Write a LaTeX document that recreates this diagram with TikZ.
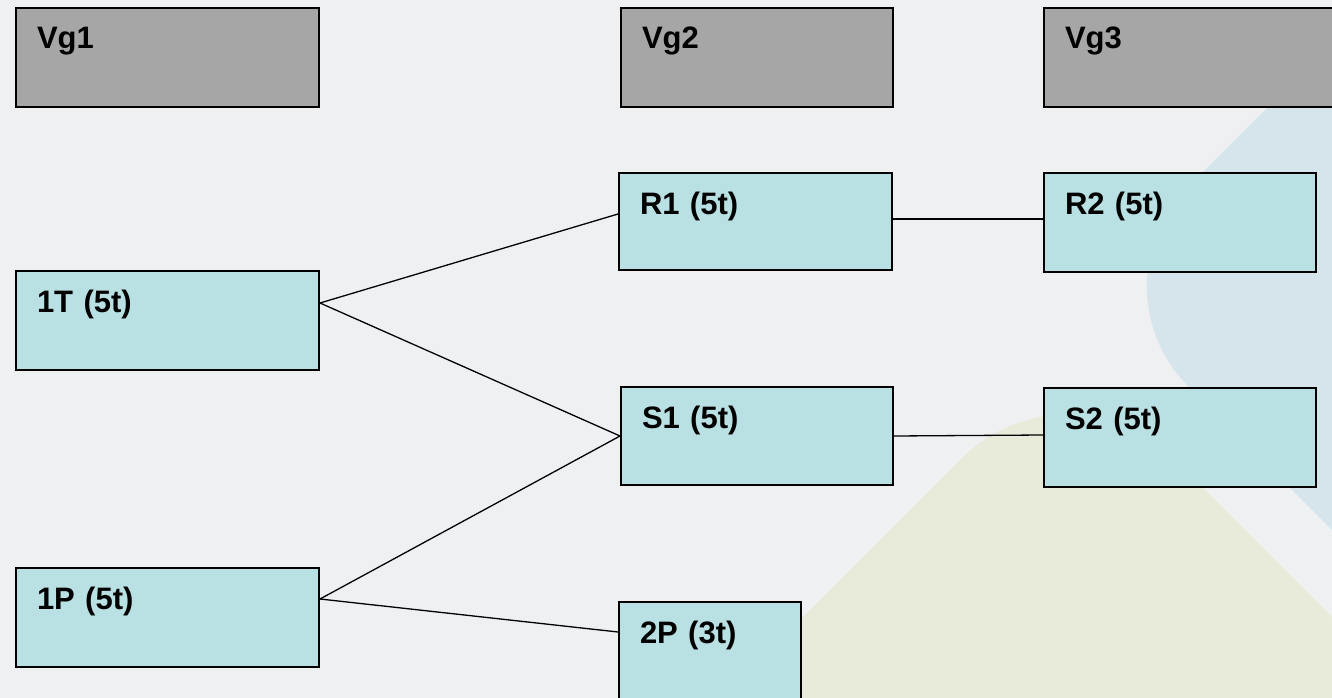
\documentclass[tikz,border=0pt]{standalone}
\usepackage{fontspec}
\setmainfont{Liberation Sans}
\definecolor{bgc}{HTML}{EFF0F2}
\definecolor{blueshape}{HTML}{D6E5EC}
\definecolor{greenshape}{HTML}{E8EBDA}
\definecolor{boxfill}{HTML}{B9E0E3}
\definecolor{headfill}{HTML}{A6A6A6}
\tikzset{
  basebox/.style={draw=black, line width=2pt, rectangle, anchor=north west,
    align=left, inner xsep=21pt, inner ysep=0pt, text height=41pt,
    font=\bfseries\fontsize{31pt}{32pt}\selectfont},
  headbox/.style={basebox, fill=headfill},
  itembox/.style={basebox, fill=boxfill},
  conn/.style={draw=black, line width=1.3pt}
}
\begin{document}
\begin{tikzpicture}[x=1pt,y=-1pt]
\useasboundingbox (0,0) rectangle (1332,698);
\clip (0,0) rectangle (1332,698);
\fill[bgc] (0,0) rectangle (1332,698);
% background shapes
\fill[blueshape, rounded corners=141pt] (1088.5,286.5) -- (1488.5,-113.5) -- (1888.5,286.5) -- (1488.5,686.5) -- cycle;
\fill[greenshape, rounded corners=150pt] (1067.5,352.5) -- (1467.5,752.5) -- (1067.5,1152.5) -- (667.5,752.5) -- cycle;
% header boxes
\node[headbox, text width=261pt, text depth=58pt] (vg1) at (15,7) {Vg1};
\node[headbox, text width=230pt, text depth=58pt] (vg2) at (620,7) {Vg2};
\node[headbox, text width=278pt, text depth=58pt] (vg3) at (1043,7) {Vg3};
% item boxes
\node[itembox, text width=261pt, text depth=58pt] (t1) at (15,270) {1T (5t)};
\node[itembox, text width=261pt, text depth=58pt] (p1) at (15,567) {1P (5t)};
\node[itembox, text width=231pt, text depth=56pt] (r1) at (618,172) {R1 (5t)};
\node[itembox, text width=230pt, text depth=57pt] (s1) at (620,386) {S1 (5t)};
\node[itembox, text width=140pt, text depth=79pt] (p2) at (618,601) {2P (3t)};
\node[itembox, text width=230pt, text depth=58pt] (r2) at (1043,172) {R2 (5t)};
\node[itembox, text width=230pt, text depth=58pt] (s2) at (1043,387) {S2 (5t)};
% connectors
\draw[conn] ([yshift=-33pt]t1.north east) -- ([yshift=-42pt]r1.north west);
\draw[conn] ([yshift=-33pt]t1.north east) -- (s1.west);
\draw[conn] ([yshift=-32pt]p1.north east) -- (s1.west);
\draw[conn] ([yshift=-32pt]p1.north east) -- ([yshift=-31pt]p2.north west);
\draw[conn] ([yshift=-47pt]r1.north east) -- ([yshift=-47pt]r2.north west);
\draw[conn] (s1.east) -- ([yshift=-48pt]s2.north west);
\end{tikzpicture}
\end{document}
